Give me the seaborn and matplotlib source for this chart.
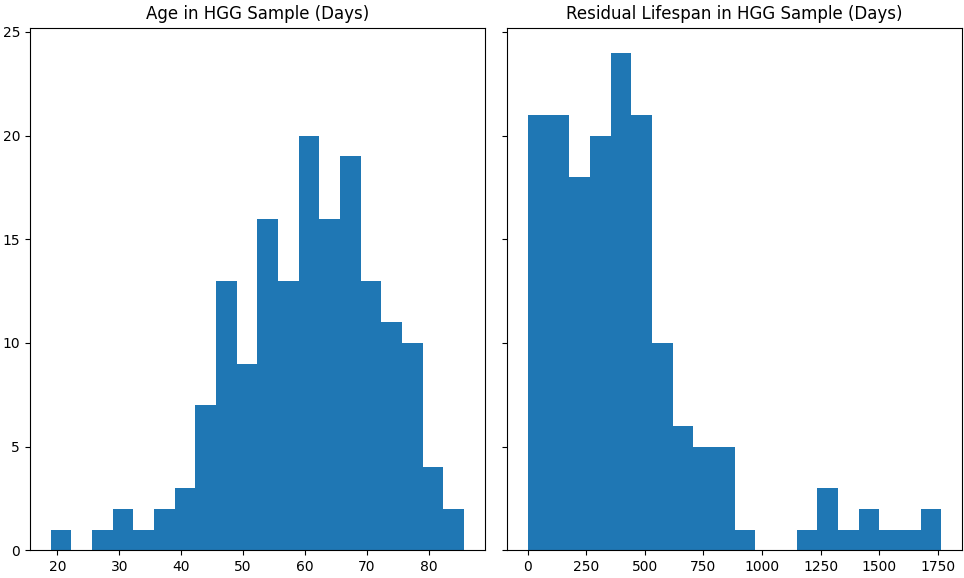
import numpy as np
import pandas as pd
import seaborn as sns
import matplotlib.pyplot as plt

# Age histogram (20 bins)
age_edges = list(np.linspace(18.9, 85.7, 21))
age_counts = [1, 0, 1, 2, 1, 2, 3, 7, 13, 9, 16, 13, 20, 16, 19, 13, 11, 10, 4, 2]

# Residual lifespan histogram (20 bins)
life_edges = list(np.linspace(2, 1765, 21))
life_counts = [21, 21, 18, 20, 24, 21, 10, 6, 5, 5, 1, 0, 0, 1, 3, 1, 2, 1, 1, 2]

ae = np.array(age_edges)
le = np.array(life_edges)
age_df = pd.DataFrame({"x": (ae[:-1] + ae[1:]) / 2, "n": age_counts})
life_df = pd.DataFrame({"x": (le[:-1] + le[1:]) / 2, "n": life_counts})

fig, axes = plt.subplots(1, 2, sharey=True, figsize=(9.64, 5.78), dpi=100)
fig.subplots_adjust(left=0.031, right=0.998, bottom=0.048, top=0.952, wspace=0.05)

sns.histplot(data=age_df, x="x", weights="n", bins=age_edges, ax=axes[0],
             color="#1f77b4", alpha=1, linewidth=0)
sns.histplot(data=life_df, x="x", weights="n", bins=life_edges, ax=axes[1],
             color="#1f77b4", alpha=1, linewidth=0)

axes[0].set_title("Age in HGG Sample (Days)", fontsize=12)
axes[1].set_title("Residual Lifespan in HGG Sample (Days)", fontsize=12)
for ax in axes:
    ax.set_xlabel("")
    ax.set_ylabel("")
    ax.margins(x=0.05, y=0.05)
axes[0].set_ylim(0, 25.2)
axes[1].set_xticks([0, 250, 500, 750, 1000, 1250, 1500, 1750])

plt.savefig("out.png")
plt.close()
